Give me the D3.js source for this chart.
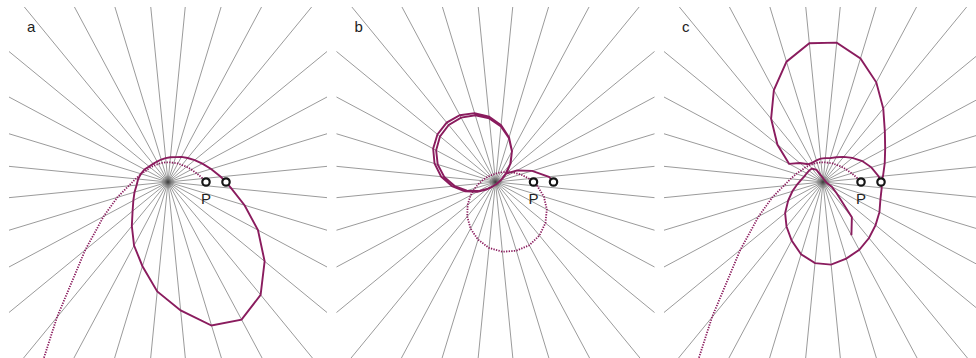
<!DOCTYPE html>
<html><head><meta charset="utf-8">
<script src="https://cdn.jsdelivr.net/npm/d3@7"></script>
<style>body{margin:0;background:#fff}svg{display:block}</style>
</head><body><svg id="chart" width="976" height="358"></svg>
<script>
// ---------- data ----------
const panelLabels = ["a", "b", "c"];
const markerLabel = "P";
const markerAngle = 90;            // degrees, clockwise from up
const markerRadii = [38, 58];      // distance of the two start points from the centre
const spokeCount = 32;

// [angle (deg, clockwise from up), radius]
const aSolid = [[90,58],[84.375,53],[73.125,45],[61.875,39],[50.625,34.5],[39.375,31],[28.125,28.5],[16.875,26],[5.625,24.8],[-5.625,24],[-16.875,23.5],[-28.125,23.2],[-39.375,23.5],[-50.625,24.5],[-61.875,26.6],[-73.125,28.3],[-84.375,30],[-95.625,31.5],[-106.875,35],[-118.125,39.3],[-129.375,45.8],[-140.625,57],[-151.875,72],[-163.125,88],[-174.375,110],[-185.625,129],[-196.875,150],[-208.125,156],[-219.375,146],[-230.625,125],[-241.875,102],[-253.125,80],[-264.375,63.4],[-270,58]];

const escapeDotted = [[90,38],[84.375,35],[73.125,30],[61.875,26.5],[50.625,24],[39.375,22],[28.125,21],[16.875,20],[5.625,19.8],[-5.625,19.8],[-16.875,20],[-28.125,20.5],[-39.375,21.5],[-50.625,23],[-61.875,24.5],[-73.125,28],[-84.375,32.5],[-95.625,39.5],[-106.875,53],[-118.125,73],[-129.375,107],[-140.625,175],[-151.875,360]];

const bDotted = [[90,38],[84.375,33.8],[73.125,26.2],[61.875,20.2],[50.625,15.8],[39.375,12.8],[28.125,10.8],[16.875,9.4],[5.625,8.6],[-5.625,8.1],[-16.875,7.8],[-28.125,7.9],[-39.375,8.2],[-50.625,8.8],[-61.875,9.8],[-73.125,11.2],[-84.375,13.5],[-95.625,16.8],[-106.875,21.6],[-118.125,28.2],[-129.375,36],[-140.625,44.6],[-151.875,52.9],[-163.125,60.2],[-174.375,66.2],[-185.625,70.1],[-196.875,71.8],[-208.125,71.7],[-219.375,69.2],[-230.625,64.6],[-241.875,58.2],[-253.125,50.6],[-264.375,42.1],[-270,38]];

const bSolid = [[90,59],[84.375,53.6],[73.125,38.3],[61.875,24.5],[50.625,13],
 [39.375,23.8],[28.125,34.9],[16.875,46],[5.625,55.8],[-5.625,63.9],[-16.875,69.7],[-28.125,73],[-39.375,73.7],[-50.625,71.8],[-61.875,67.3],[-73.125,60.4],[-84.375,51.5],[-95.625,41],[-106.875,29.9],[-118.125,19.2],[-129.375,11.1],[-140.625,6.6],[-151.875,4.5],[-163.125,3.4],[-174.375,2.8],[-185.625,2.5],[-196.875,2.3],[-208.125,2.1],[-219.375,2.1],[-230.625,2.2],[-241.875,2.3],[-253.125,2.6],[-264.375,3.1],[-275.625,3.8],[-286.875,5.3],[-298.125,8.2],[-309.375,14.3],
 [-320.625,23.3],[-331.875,35],[-343.125,46.6],[-354.375,57],[-365.625,65.7],[-376.875,72],[-388.125,75.7],[-399.375,76.9],[-410.625,75.1],[-421.875,70.7],[-433.125,63.7],[-444.375,54.6],[-455.625,43.7],[-466.875,31.9],[-478.125,20.6],[-489.375,11.8],[-500.625,6.9],[-511.875,4.6],[-523.125,3.4],[-534.375,2.8],[-545.625,2.5],[-556.875,2.2],[-568.125,2.1],[-579.375,2.1],[-590.625,2.1],[-601.875,2.3],[-613.125,2.5],[-624.375,3],[-635.625,3.7],[-646.875,5.1],[-658.125,7.8],[-669.375,13.6]];

const cSolid = [[90,58],[84.375,60.3],[73.125,64.5],[61.875,70.5],[50.625,80],[39.375,95],[28.125,113],[16.875,129],[5.625,140],[-5.625,139.4],[-16.875,125.7],[-28.125,104.2],[-39.375,81.8],[-50.625,59],[-61.875,38.5],
 [-50.625,30],[-39.375,23],[-28.125,22],[-16.875,22.5],[-5.625,23.5],[5.625,24],[16.875,25],[28.125,28],[39.375,32.5],[50.625,38],[61.875,44.5],[73.125,50.5],[84.375,56],[95.625,59],[106.875,60],[118.125,64],[129.375,68],[140.625,72.5],[151.875,77],[163.125,80],[174.375,83],[185.625,81.5],[196.875,75.5],[208.125,66.5],[219.375,57.5],[230.625,49],[241.875,39.5],[253.125,32],[264.375,26],[275.625,22],[286.875,19.5],[298.125,18.5],[309.375,18],[320.625,17.5],[331.875,13.8],[343.125,6.6],[354.375,4.5],[365.625,3.5],[376.875,2.9],[388.125,2.6],[399.375,2.5],[410.625,2.4],[421.875,2.4],[433.125,2.6],[444.375,2.8],[455.625,3.3],[466.875,4.5],[478.125,9.9],[489.375,17.4],[500.625,45.5],[511.875,60.3]];

// ---------- layout ----------
const W = 976, H = 358;
const svg = d3.select("#chart");
const cxScale = d3.scaleLinear().domain([0, 2]).range([168, 823]);
const cy = 182;
const halfW = 159, topY = 7;
const ang = d3.scaleLinear().domain([0, 360]).range([0, 2 * Math.PI]);
const rad = d3.scaleLinear().domain([0, 100]).range([0, 100]);
const line = d3.lineRadial().angle(d => ang(d[0])).radius(d => rad(d[1])).curve(d3.curveLinear);

const spokes = d3.range(spokeCount).map(k => (k + 0.5) * 360 / spokeCount);
const purple = "#8a1c5e";

const panelCurves = [
  [{d: escapeDotted, dot: true}, {d: aSolid, dot: false}],
  [{d: bDotted, dot: true}, {d: bSolid, dot: false}],
  [{d: escapeDotted, dot: true}, {d: cSolid, dot: false}]
];

const defs = svg.append("defs");
const grad = defs.append("radialGradient").attr("id", "hub");
grad.append("stop").attr("offset", "0%").attr("stop-color", "#333").attr("stop-opacity", 0.95);
grad.append("stop").attr("offset", "100%").attr("stop-color", "#888").attr("stop-opacity", 0);

panelLabels.forEach((lab, i) => {
  const cx = cxScale(i);
  defs.append("clipPath").attr("id", "clip" + i)
    .append("rect").attr("x", cx - halfW).attr("y", topY)
    .attr("width", 2 * halfW).attr("height", H - topY);

  const g = svg.append("g").attr("clip-path", `url(#clip${i})`)
    .append("g").attr("transform", `translate(${cx},${cy})`);

  g.selectAll("path.spoke").data(spokes).join("path")
    .attr("class", "spoke")
    .attr("d", a => line([[a, 0], [a, 420]]))
    .attr("stroke", "#8e8e8e").attr("stroke-width", 0.9).attr("fill", "none");

  g.append("circle").attr("r", 7).attr("fill", "url(#hub)");

  panelCurves[i].forEach(c => {
    g.append("path").attr("d", line(c.d))
      .attr("fill", "none").attr("stroke", purple)
      .attr("stroke-width", c.dot ? 1.8 : 1.9)
      .attr("stroke-dasharray", c.dot ? "1.3,1.3" : null)
      .attr("stroke-linejoin", "miter");
  });

  g.selectAll("circle.mk").data(markerRadii).join("circle")
    .attr("class", "mk")
    .attr("cx", r => d3.pointRadial(ang(markerAngle), rad(r))[0])
    .attr("cy", r => d3.pointRadial(ang(markerAngle), rad(r))[1])
    .attr("r", 3.7).attr("fill", "#fff").attr("stroke", "#151515").attr("stroke-width", 2.2);

  const p = d3.pointRadial(ang(markerAngle), rad(markerRadii[0]));
  g.append("text").attr("x", p[0]).attr("y", p[1] + 22)
    .attr("text-anchor", "middle")
    .attr("font-family", "Liberation Sans, Arial, sans-serif")
    .attr("font-size", 15).attr("fill", "#222").text(markerLabel);

  svg.append("text").attr("x", cx - 141).attr("y", 32)
    .attr("font-family", "Liberation Sans, Arial, sans-serif")
    .attr("font-size", 15).attr("fill", "#222").text(lab);
});
</script></body></html>
